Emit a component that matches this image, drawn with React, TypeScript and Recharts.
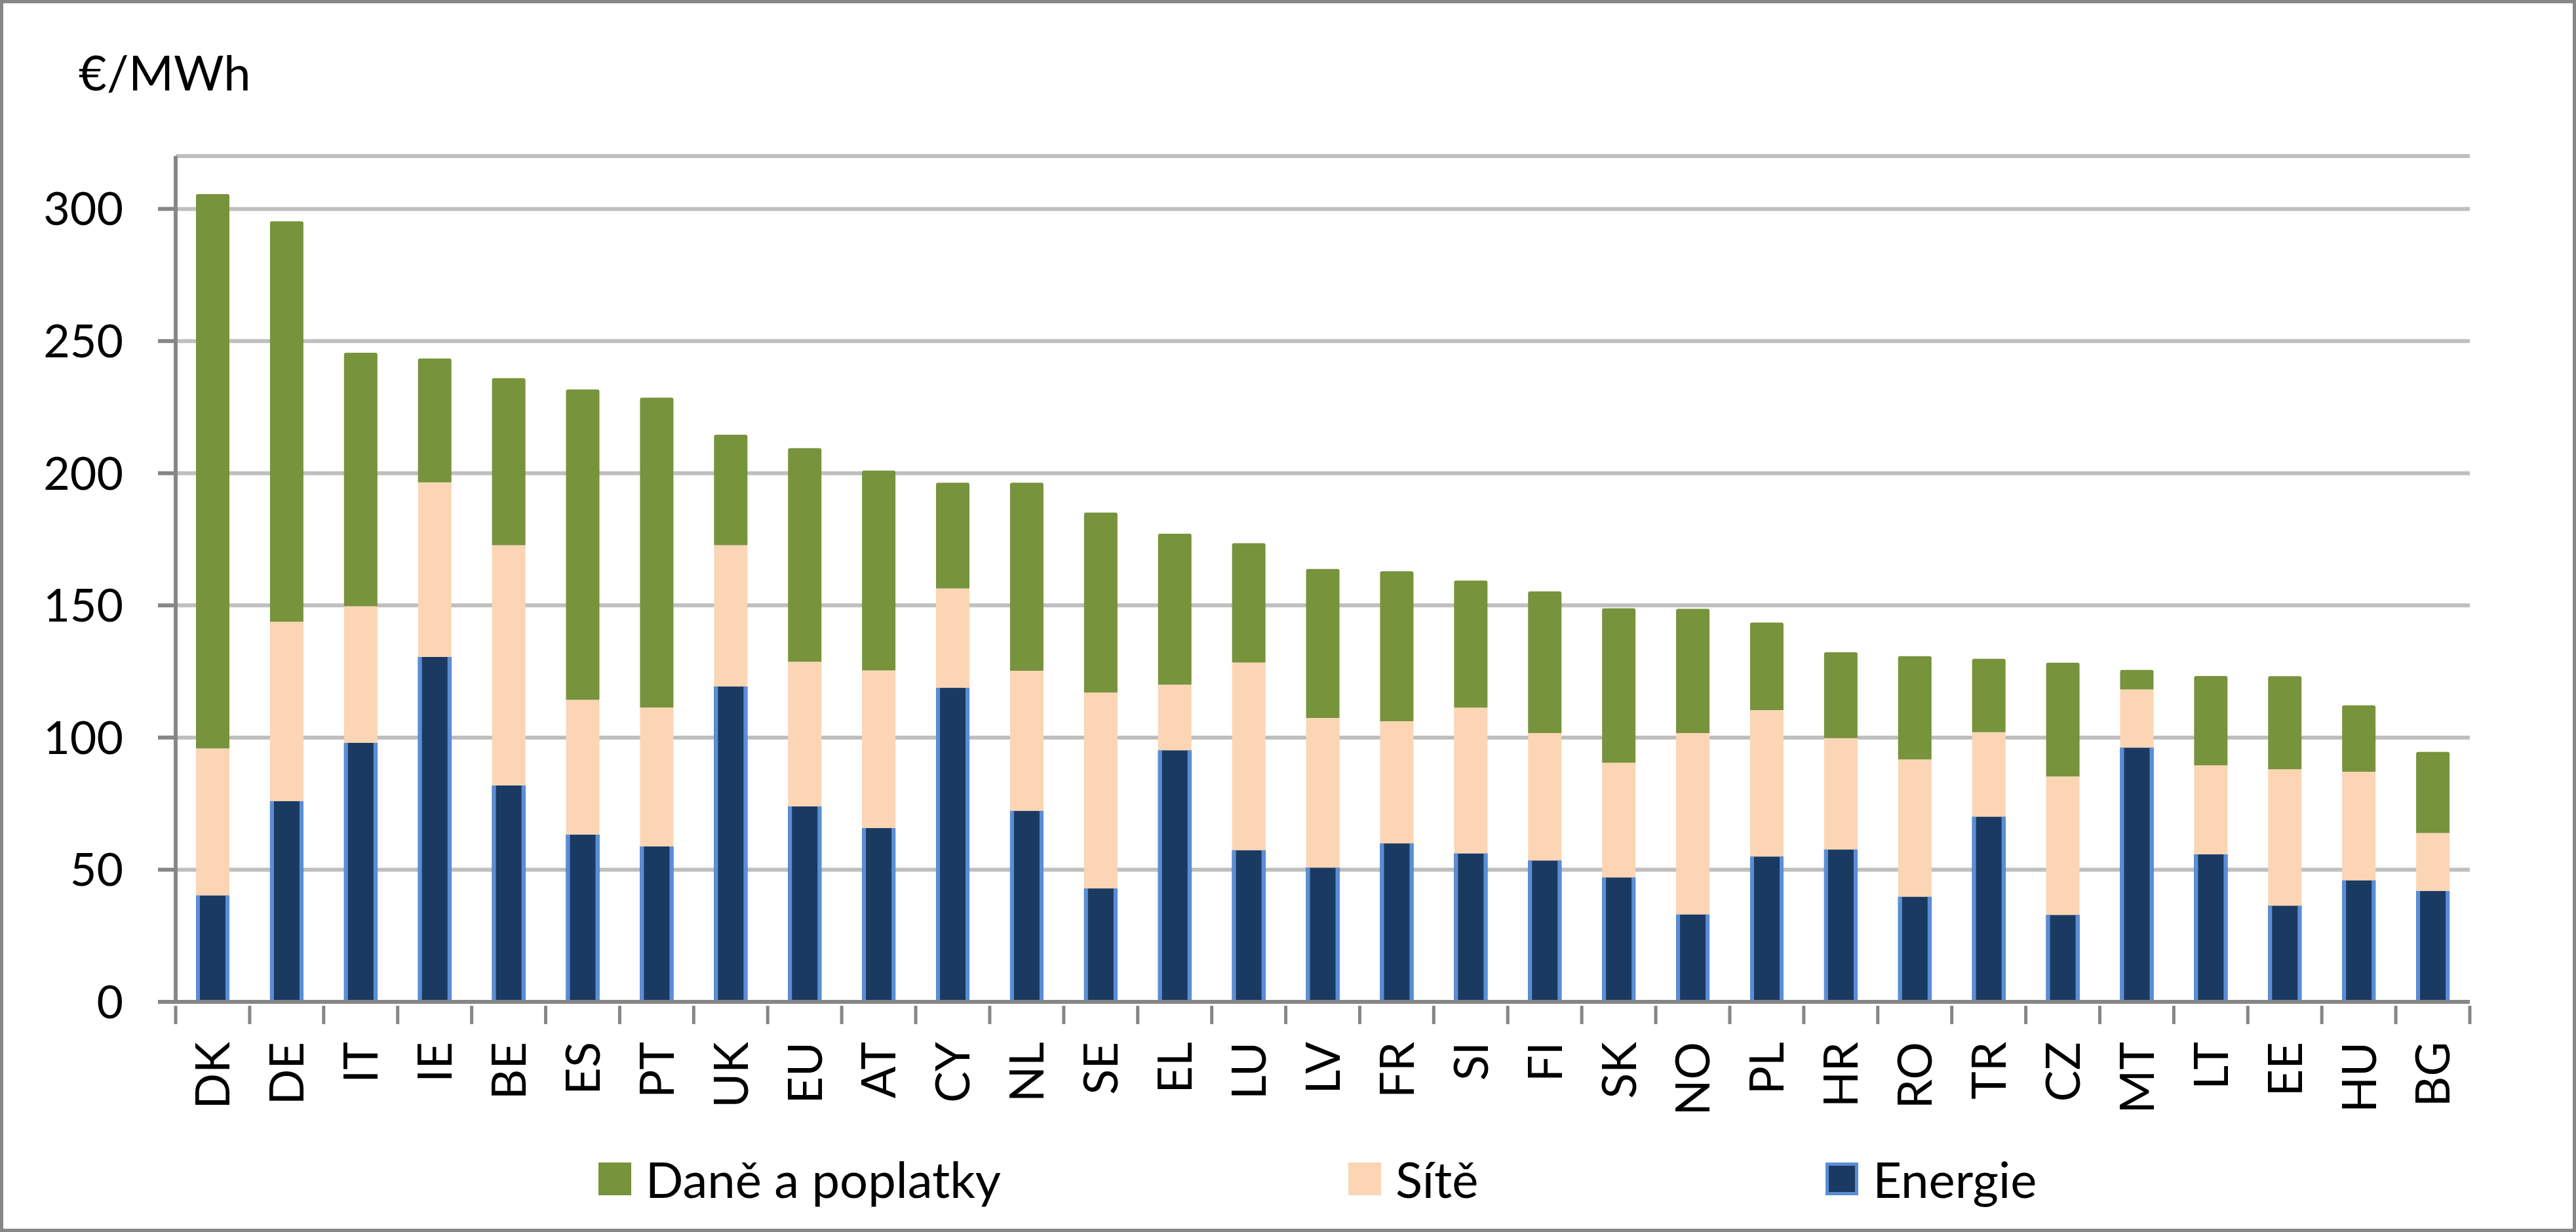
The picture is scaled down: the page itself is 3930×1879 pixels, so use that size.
import React from 'react';
import { BarChart, Bar, XAxis, YAxis, CartesianGrid, Legend, Label } from 'recharts';

const countries = ['DK','DE','IT','IE','BE','ES','PT','UK','EU','AT','CY','NL','SE','EL','LU','LV','FR','SI','FI','SK','NO','PL','HR','RO','TR','CZ','MT','LT','EE','HU','BG'];
const energie = [40.3,76,98,130.5,81.9,63.3,58.8,119.3,74,65.8,118.8,72.3,42.9,95.2,57.4,50.8,60,56.2,53.5,47.1,33.1,55,57.7,39.8,70.1,32.9,96.2,55.8,36.4,46,42];
const site = [55.6,67.8,51.7,66,90.9,51,52.6,53.5,54.7,59.6,37.6,53,74.1,24.8,71,56.6,46.2,55.1,48.2,43.4,68.6,55.4,42.1,51.9,31.9,52.4,22,33.7,51.6,41.1,21.9];
const dane = [209.7,151.5,95.9,46.9,63.2,117.4,117.2,41.8,80.8,75.6,40,71.1,68.1,57.1,45.1,56.4,56.7,48.1,53.6,58.4,47,33.1,32.5,39.1,27.8,43,7.4,33.8,35.2,25.1,30.7];
const yTicks = [0,50,100,150,200,250,300];
const seriesNames = { dane: 'Daně a poplatky', site: 'Sítě', energie: 'Energie' };

const data = countries.map((c, i) => ({ country: c, energie: energie[i], site: site[i], dane: dane[i] }));

const FONT = 'Lato, "Liberation Sans", sans-serif';
const AXIS = '#868686';
const GREEN = '#77933C';
const PEACH = '#FCD5B5';
const NAVY = '#1B3A61';
const BLUE = '#5A8ED6';

const EnergyShape = (p: any) => {
  const { x, y, width, height } = p;
  if (height == null || height <= 0) return null;
  return (
    <g>
      <rect x={x} y={y} width={width} height={height} fill={NAVY} />
      <rect x={x} y={y} width={6} height={height} fill={BLUE} />
      <rect x={x + width - 6} y={y} width={6} height={height} fill={BLUE} />
    </g>
  );
};

const XTick = (p: any) => {
  const { x, y, payload, index, visibleTicksCount } = p;
  const half = payload && payload.offset ? payload.offset : 56.45;
  const axisY = y - 8;
  const isLast = index === (visibleTicksCount ?? countries.length) - 1;
  return (
    <g>
      <line x1={x - half} y1={axisY} x2={x - half} y2={axisY + 28} stroke={AXIS} strokeWidth={5} />
      {isLast && <line x1={x + half} y1={axisY} x2={x + half} y2={axisY + 28} stroke={AXIS} strokeWidth={5} />}
      <text
        x={x}
        y={axisY + 55}
        transform={`rotate(-90, ${x}, ${axisY + 55})`}
        textAnchor="end"
        dy="0.36em"
        fontFamily={FONT}
        fontSize={72}
        fill="#000"
      >
        {payload.value}
      </text>
    </g>
  );
};

const LegendContent = () => {
  const items = [
    { name: seriesNames.dane, color: GREEN, border: GREEN },
    { name: seriesNames.site, color: PEACH, border: PEACH },
    { name: seriesNames.energie, color: NAVY, border: BLUE },
  ];
  return (
    <div style={{ display: 'flex', justifyContent: 'center', alignItems: 'center', height: 80, gap: 530, paddingLeft: 252, fontFamily: FONT }}>
      {items.map((it) => (
        <div key={it.name} style={{ display: 'flex', alignItems: 'center' }}>
          <div style={{ width: 50, height: 50, boxSizing: 'border-box', background: it.color, border: `5px solid ${it.border}`, marginRight: 22 }} />
          <span style={{ fontSize: 76, lineHeight: '80px', color: '#000' }}>{it.name}</span>
        </div>
      ))}
    </div>
  );
};

export default function App() {
  return (
    <div style={{ position: 'absolute', left: 0, top: 0, width: 3930, height: 1879, boxSizing: 'border-box', border: '5px solid #868686', background: '#fff', overflow: 'hidden' }}>
      <style>{`body{margin:0;overflow:hidden}`}</style>
      <div style={{ position: 'absolute', left: -5, top: -5 }}>
        <BarChart width={3930} height={1879} data={data} margin={{ top: 238, right: 162, bottom: 41, left: 0 }} barSize={51}>
          <CartesianGrid vertical={false} stroke="#BFBFBF" strokeWidth={6} />
          <XAxis
            dataKey="country"
            interval={0}
            height={230}
            axisLine={{ stroke: AXIS, strokeWidth: 6 }}
            tickLine={false}
            tick={<XTick />}
            tickMargin={8}
          />
          <YAxis
            width={268}
            domain={[0, 320]}
            ticks={yTicks}
            interval={0}
            axisLine={{ stroke: AXIS, strokeWidth: 6 }}
            tickLine={{ stroke: AXIS, strokeWidth: 6 }}
            tickSize={27}
            tickMargin={53}
            tick={{ fontFamily: FONT, fontSize: 70, fill: '#000' }}
          >
            <Label
              content={() => (
                <text x={120} y={138} fontFamily={FONT} fontSize={74} fill="#000">€/MWh</text>
              )}
            />
          </YAxis>
          <Legend verticalAlign="bottom" height={80} content={<LegendContent />} />
          <Bar dataKey="energie" name={seriesNames.energie} stackId="a" fill={NAVY} shape={<EnergyShape />} isAnimationActive={false} />
          <Bar dataKey="site" name={seriesNames.site} stackId="a" fill={PEACH} isAnimationActive={false} />
          <Bar dataKey="dane" name={seriesNames.dane} stackId="a" fill={GREEN} radius={[3, 3, 0, 0]} isAnimationActive={false} />
        </BarChart>
      </div>
    </div>
  );
}
